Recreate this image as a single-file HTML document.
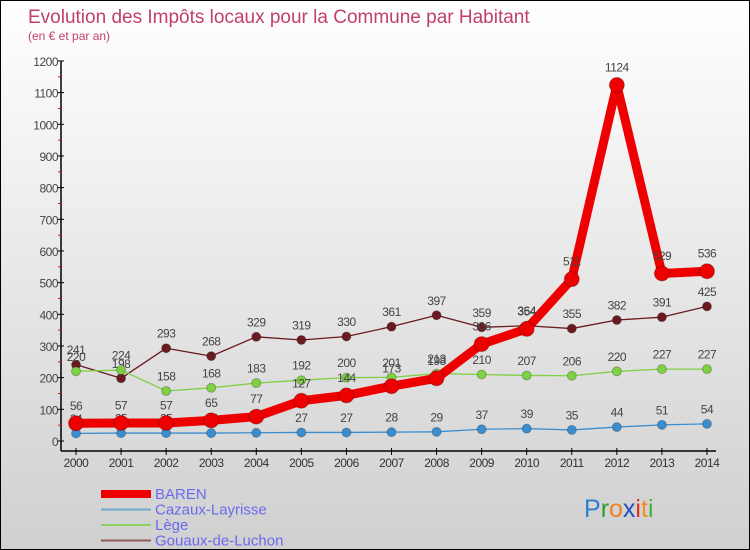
<!DOCTYPE html>
<html><head><meta charset="utf-8"><style>
body{margin:0}
#wrap{width:748px;height:548px;border:1px solid #000;position:relative;background:linear-gradient(#fff,#d0d0d0);font-family:"Liberation Sans",sans-serif;overflow:hidden}
svg{position:absolute;left:0;top:0}
</style></head><body>
<div id="wrap">
<svg id="c" width="750" height="550"></svg>
</div>
<script>
const years=[2000,2001,2002,2003,2004,2005,2006,2007,2008,2009,2010,2011,2012,2013,2014];
const baren=[56,57,57,65,77,127,144,173,198,306,354,511,1124,529,536];
const cazaux=[24,25,25,25,26,27,27,28,29,37,39,35,44,51,54];
const lege=[220,224,158,168,183,192,200,201,213,210,207,206,220,227,227];
const gouaux=[241,198,293,268,329,319,330,361,397,359,364,355,382,391,425];
const yTicks=[0,100,200,300,400,500,600,700,800,900,1000,1100,1200];
const svg=document.getElementById('c');const NS='http://www.w3.org/2000/svg';
function X(i){return 75+i*45.07;}
function Y(v){return 440-v*0.3167;}
function mk(t,a,p){const e=document.createElementNS(NS,t);for(const k in a)e.setAttribute(k,a[k]);(p||svg).appendChild(e);return e;}
function txt(x,y,s,a,p){const e=mk('text',Object.assign({x:x,y:y},a),p);e.textContent=s;return e;}
let t=txt(27,22,'Evolution des Impôts locaux pour la Commune par Habitant',{fill:'#c0406a','font-size':19});

t=txt(27,39,'(en € et par an)',{fill:'#c0406a','font-size':12});

const ax=mk('g',{});
mk('line',{x1:60,y1:60,x2:60,y2:450,stroke:'#000','stroke-width':1.5},ax);
mk('line',{x1:60,y1:450,x2:715,y2:450,stroke:'#000','stroke-width':1.5},ax);
yTicks.forEach(v=>{mk('line',{x1:57,y1:Y(v)+0,x2:63,y2:Y(v),stroke:'#000'},ax);
 txt(57,Y(v)+5,v,{'text-anchor':'end','font-size':12,fill:'#444','letter-spacing':'-0.5'},ax);
 if(v<1200)mk('line',{x1:57,y1:Y(v+50),x2:60,y2:Y(v+50),stroke:'#f00'},ax);});
years.forEach((y,i)=>{mk('line',{x1:X(i),y1:447,x2:X(i),y2:454,stroke:'#000'},ax);
 txt(X(i),466,y,{'text-anchor':'middle','font-size':12,fill:'#333','letter-spacing':'-0.5'},ax);});
function series(name,d,col,w,r){const g=mk('g',{});
 mk('polyline',{points:d.map((v,i)=>X(i)+','+Y(v)).join(' '),fill:'none',stroke:col,'stroke-width':w,'stroke-linejoin':'round'},g);
 d.forEach((v,i)=>{const c=mk('circle',{cx:X(i),cy:Y(v),r:r,fill:col,stroke:'rgba(0,0,0,0.25)'},g);
  
  txt(X(i),Y(v)-r-6,v,{'text-anchor':'middle','font-size':12,fill:'#444','letter-spacing':'-0.5'},g);});}
series('gouaux',gouaux,'#6b1a1f',1.3,4.5);
series('lege',lege,'#7fd144',1.3,4.5);
series('cazaux',cazaux,'#3a8ed0',1.3,4.5);
series('baren',baren,'#ee0000',9,7.5);
const lg=[['BAREN','#ee0000',8],['Cazaux-Layrisse','#6fa8d0',2],['Lège','#8fd060',2],['Gouaux-de-Luchon','#8f5a5a',2]];
lg.forEach((l,i)=>{const g=mk('g',{});
 const yy=493+i*15.5;mk('line',{x1:100,y1:yy,x2:150,y2:yy,stroke:l[1],'stroke-width':l[2]},g);
 txt(154,yy+5,l[0],{'font-size':15,fill:'#6a6aee'},g);});
const lo=mk('text',{x:583,y:516,'font-size':25});
[['P','#2e7fd0'],['r','#2aa02a'],['o','#f08020'],['x','#2050c0'],['i','#e03020'],['t','#f09020'],['i','#40b040']].forEach(p=>{const s=mk('tspan',{fill:p[1]},lo);s.textContent=p[0];});
</script>
</body></html>
